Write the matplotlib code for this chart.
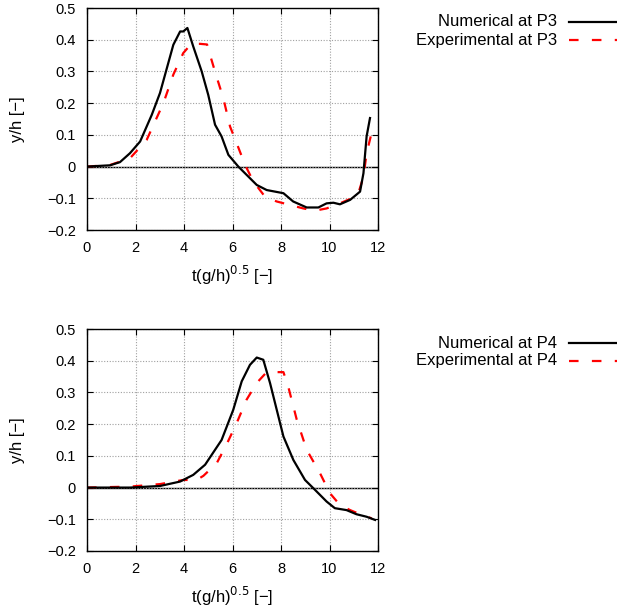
import matplotlib
matplotlib.use("Agg")
import matplotlib.pyplot as plt
from matplotlib.lines import Line2D

plt.rcParams["font.family"] = ["Liberation Sans", "DejaVu Sans"]

# probe P3
p3_num_t = [0.0, 0.95, 1.36, 1.77, 2.19, 2.67, 3.01, 3.56, 3.84, 3.97, 4.14, 4.38, 4.73,
            5.0, 5.28, 5.55, 5.83, 6.24, 6.58, 7.0, 7.41, 8.1, 8.5, 9.06, 9.54, 9.88,
            10.16, 10.43, 10.85, 11.26, 11.4, 11.53, 11.67]
p3_num_y = [0.0, 0.004, 0.014, 0.042, 0.079, 0.163, 0.232, 0.384, 0.426, 0.426, 0.437,
            0.379, 0.30, 0.226, 0.132, 0.095, 0.037, 0.0, -0.026, -0.058, -0.074, -0.084,
            -0.11, -0.129, -0.129, -0.116, -0.114, -0.119, -0.105, -0.079, -0.021, 0.095,
            0.153]
p3_exp_t = [0.0, 0.95, 1.77, 2.46, 3.15, 3.56, 3.97, 4.3, 4.66, 4.95, 5.07, 5.34, 5.62,
            5.9, 6.17, 6.52, 6.86, 7.34, 7.82, 8.37, 8.92, 9.4, 9.88, 10.43, 10.91, 11.19,
            11.4, 11.53, 11.7]
p3_exp_y = [0.0, 0.005, 0.026, 0.084, 0.2, 0.29, 0.358, 0.387, 0.387, 0.385, 0.353,
            0.284, 0.216, 0.126, 0.074, 0.005, -0.047, -0.095, -0.11, -0.121, -0.132,
            -0.139, -0.132, -0.116, -0.1, -0.084, -0.032, 0.042, 0.095]

# probe P4
p4_num_t = [0.0, 1.77, 3.01, 3.84, 4.38, 4.87, 5.55, 6.03, 6.38, 6.72, 7.0, 7.27, 7.55,
            8.1, 8.51, 8.99, 9.4, 9.88, 10.22, 10.7, 11.11, 11.53, 11.88]
p4_num_y = [0.0, 0.0, 0.005, 0.019, 0.04, 0.072, 0.15, 0.245, 0.335, 0.387, 0.41, 0.403,
            0.329, 0.161, 0.087, 0.024, -0.007, -0.044, -0.065, -0.071, -0.084, -0.092,
            -0.102]
p4_exp_t = [0.0, 1.77, 3.01, 3.97, 4.52, 4.8, 5.35, 5.75, 6.17, 6.58, 7.0, 7.41, 8.1,
            8.3, 8.65, 9.06, 9.61, 10.02, 10.43, 10.85, 11.26, 11.74]
p4_exp_y = [0.0, 0.003, 0.011, 0.024, 0.024, 0.037, 0.077, 0.135, 0.203, 0.277, 0.33,
            0.364, 0.364, 0.318, 0.214, 0.119, 0.045, -0.018, -0.055, -0.071, -0.084,
            -0.097]

xticks = [0, 2, 4, 6, 8, 10, 12]
yticks = [-0.2, -0.1, 0, 0.1, 0.2, 0.3, 0.4, 0.5]
ytick_labels = ["\u22120.2", "\u22120.1", "0", "0.1", "0.2", "0.3", "0.4", "0.5"]

fig = plt.figure(figsize=(6.17, 6.13), dpi=100)
W, H = 617.0, 613.0
DASH = (4.3, 6.0)
LW = 1.6

panels = [
    (8, p3_num_t, p3_num_y, p3_exp_t, p3_exp_y, "P3"),
    (329, p4_num_t, p4_num_y, p4_exp_t, p4_exp_y, "P4"),
]

for top_px, nt, ny, et, ey, name in panels:
    ax = fig.add_axes([87 / W, 1 - (top_px + 222) / H, 291 / W, 222 / H])
    ax.axhline(0, color="black", lw=1.0, zorder=1)
    ax.plot(nt, ny, color="black", lw=LW, zorder=3)
    ax.plot(et, ey, color="red", lw=LW, dashes=DASH, zorder=2)
    ax.set_xlim(0, 12)
    ax.set_ylim(-0.2, 0.5)
    ax.set_xticks(xticks)
    ax.set_yticks(yticks)
    ax.set_xticklabels([str(v) for v in xticks])
    ax.set_yticklabels(ytick_labels)
    ax.grid(True, color="#a0a0a0", linestyle=(0, (1, 1.5)), lw=0.8)
    ax.tick_params(direction="in", length=4, width=0.8, labelsize=10.5, pad=8,
                   top=True, right=True)
    for sp in ax.spines.values():
        sp.set_linewidth(1.0)
    ax.set_xlabel("t(g/h)$^{0.5}$ [\u2212]", fontsize=12, labelpad=6)
    ax.set_ylabel("y/h [\u2212]", fontsize=12, labelpad=16)

    # gnuplot-style key outside on the right
    y1 = 1 - (top_px + 14) / H
    y2 = 1 - (top_px + 32) / H
    fig.text(557 / W, y1, f"Numerical at {name}", ha="right", va="center", fontsize=12)
    fig.text(557 / W, y2, f"Experimental at {name}", ha="right", va="center", fontsize=12)
    fig.add_artist(Line2D([569 / W, 1.0], [y1, y1], color="black", lw=LW))
    fig.add_artist(Line2D([569 / W, 1.0], [y2, y2], color="red", lw=LW, dashes=DASH))

fig.savefig("out.png", dpi=100)
